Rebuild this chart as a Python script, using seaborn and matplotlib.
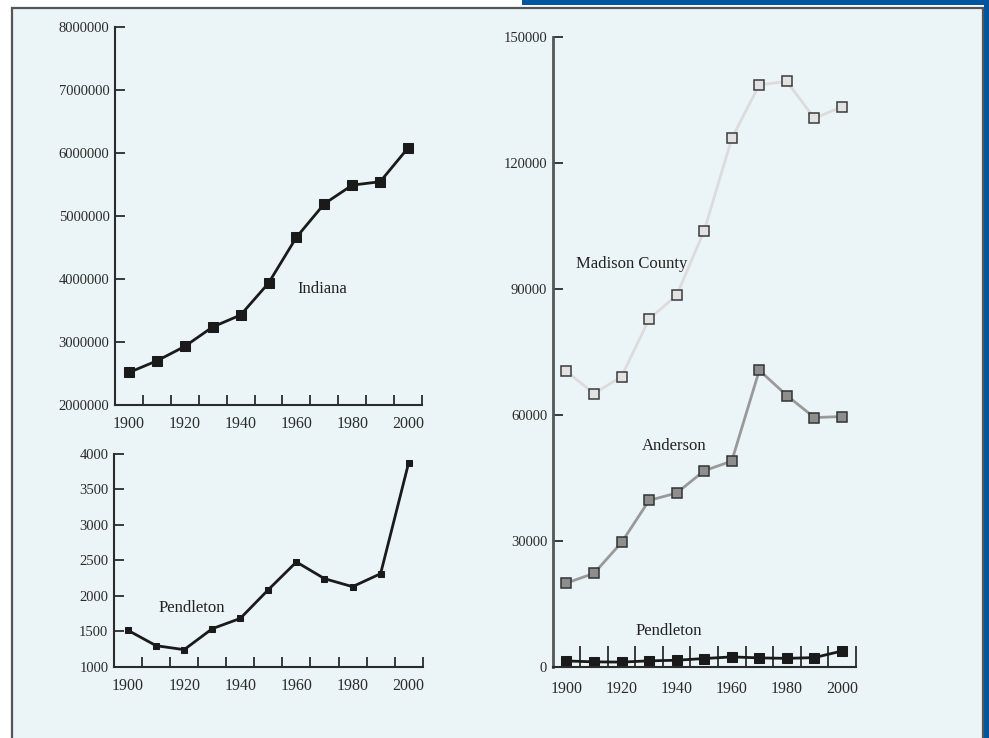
import matplotlib
matplotlib.use("Agg")
import matplotlib.pyplot as plt
from matplotlib.patches import Rectangle
from matplotlib.ticker import FixedLocator, StrMethodFormatter
import pandas as pd
import seaborn as sns

years = [1900, 1910, 1920, 1930, 1940, 1950, 1960, 1970, 1980, 1990, 2000]
indiana = [2516000, 2701000, 2930000, 3239000, 3428000, 3934000,
           4662000, 5194000, 5490000, 5544000, 6080000]
pendleton = [1512, 1296, 1240, 1535, 1680, 2085, 2475, 2240, 2127, 2310, 3873]
madison = [70400, 65100, 69150, 82850, 88500, 103850,
           125800, 138550, 139350, 130600, 133300]
anderson = [20050, 22350, 29700, 39700, 41450, 46750,
            49050, 70650, 64650, 59400, 59650]
year_labels = [1900, 1920, 1940, 1960, 1980, 2000]
year_ticks = [1905, 1915, 1925, 1935, 1945, 1955, 1965, 1975, 1985, 1995, 2005]

df_ind = pd.DataFrame({"year": years, "pop": indiana})
df_pen = pd.DataFrame({"year": years, "pop": pendleton})
df_mad = pd.DataFrame({"year": years, "pop": madison})
df_and = pd.DataFrame({"year": years, "pop": anderson})

sns.set_style("ticks")
plt.rcParams["font.family"] = ["Liberation Serif", "DejaVu Serif"]

W, H = 989, 738
panel_bg = "#EBF4F7"
blue = "#00559F"
ink = "#2b2b2b"

fig = plt.figure(figsize=(W / 100, H / 100), dpi=100)
fig.patch.set_facecolor("white")

# background frame
fig.add_artist(Rectangle((522 / W, 1 - 4.7 / H), 1, 1, transform=fig.transFigure,
                         facecolor=blue, edgecolor="none", zorder=-3))
fig.add_artist(Rectangle((984 / W, 0), 1, 1, transform=fig.transFigure,
                         facecolor=blue, edgecolor="none", zorder=-3))
fig.add_artist(Rectangle((12 / W, -0.05), (982.5 - 12) / W, 1.05 - 8 / H,
                         transform=fig.transFigure, facecolor=panel_bg,
                         edgecolor="#555555", linewidth=1.6, zorder=-2))


def px_axes(x0, x1, ytop, ybot):
    return fig.add_axes([x0 / W, 1 - ybot / H, (x1 - x0) / W, (ybot - ytop) / H])


def style(ax, ylim, yticks, xtick_len, xpad):
    ax.set_facecolor("none")
    ax.set_xlim(1895, 2005)
    ax.set_ylim(*ylim)
    ax.xaxis.set_major_locator(FixedLocator(year_labels))
    ax.xaxis.set_minor_locator(FixedLocator(year_ticks))
    ax.yaxis.set_major_locator(FixedLocator(yticks))
    ax.yaxis.set_major_formatter(StrMethodFormatter("{x:.0f}"))
    ax.tick_params(axis="x", which="major", length=0, labelsize=11.5, pad=xpad, labelcolor=ink)
    ax.tick_params(axis="x", which="minor", direction="in", length=xtick_len,
                   width=1.3, color=ink)
    ax.tick_params(axis="y", direction="in", length=7, width=1.3, color=ink,
                   labelsize=10.5, pad=4, labelcolor=ink)
    for s in ["top", "right"]:
        ax.spines[s].set_visible(False)
    for s in ["left", "bottom"]:
        ax.spines[s].set_linewidth(1.5)
        ax.spines[s].set_color(ink)
    ax.set_xlabel("")
    ax.set_ylabel("")


# Indiana
ax1 = px_axes(115, 422, 27, 405)
sns.lineplot(data=df_ind, x="year", y="pop", ax=ax1, color="#1a1a1a", linewidth=2,
             marker="s", markersize=7.5, markeredgecolor="#1a1a1a")
style(ax1, (2000000, 8000000), list(range(2000000, 8000001, 1000000)), 7, 8)
ax1.text(1969.3, 3840000, "Indiana", ha="center", va="center", fontsize=12, color="#222")

# Pendleton (own scale)
ax2 = px_axes(114, 422.7, 453.7, 666.7)
sns.lineplot(data=df_pen, x="year", y="pop", ax=ax2, color="#1a1a1a", linewidth=2,
             marker="s", markersize=5, markeredgecolor="#1a1a1a")
style(ax2, (1000, 4000), list(range(1000, 4001, 500)), 7, 8)
ax2.text(1922.7, 1831, "Pendleton", ha="center", va="center", fontsize=12, color="#222")

# Madison County, Anderson, Pendleton on a common scale
ax3 = px_axes(552.7, 855.7, 36.7, 667.3)
sns.lineplot(data=df_mad, x="year", y="pop", ax=ax3, color="#DCDCDC", linewidth=2,
             marker="s", markersize=7, markerfacecolor="#E2E2E2",
             markeredgecolor="#3a3a3a", markeredgewidth=1.1)
sns.lineplot(data=df_and, x="year", y="pop", ax=ax3, color="#999999", linewidth=2,
             marker="s", markersize=7, markerfacecolor="#8E8E8E",
             markeredgecolor="#333333", markeredgewidth=1.1)
sns.lineplot(data=df_pen, x="year", y="pop", ax=ax3, color="#1a1a1a", linewidth=2,
             marker="s", markersize=6.5, markeredgecolor="#1a1a1a")
style(ax3, (0, 150000), list(range(0, 150001, 30000)), 15, 10)
ax3.spines["left"].set_color("#555555")
ax3.spines["left"].set_linewidth(2)
ax3.text(1923.7, 95840, "Madison County", ha="center", va="center", fontsize=12, color="#222")
ax3.text(1939, 52590, "Anderson", ha="center", va="center", fontsize=12, color="#222")
ax3.text(1937, 8630, "Pendleton", ha="center", va="center", fontsize=12, color="#222")

fig.savefig("out.png", dpi=100)
